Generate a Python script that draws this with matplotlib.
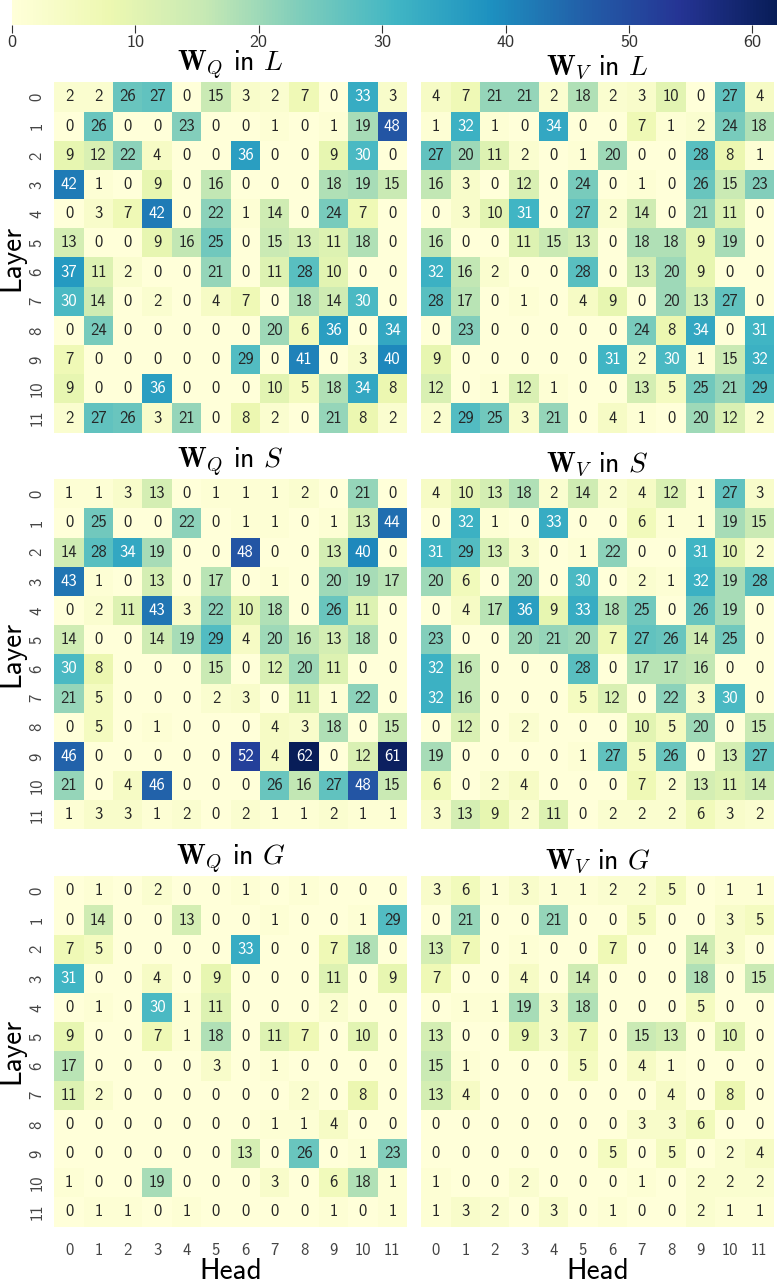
import matplotlib
matplotlib.use("Agg")
import matplotlib.pyplot as plt
import numpy as np
import seaborn as sns

plt.rcParams['mathtext.fontset'] = 'cm'
plt.rcParams['font.family'] = ['cmss10', 'DejaVu Sans']
plt.rcParams['axes.unicode_minus'] = False

heads = [str(i) for i in range(12)]
layers = [str(i) for i in range(12)]

wq_L = [
    [2, 2, 26, 27, 0, 15, 3, 2, 7, 0, 33, 3],
    [0, 26, 0, 0, 23, 0, 0, 1, 0, 1, 19, 48],
    [9, 12, 22, 4, 0, 0, 36, 0, 0, 9, 30, 0],
    [42, 1, 0, 9, 0, 16, 0, 0, 0, 18, 19, 15],
    [0, 3, 7, 42, 0, 22, 1, 14, 0, 24, 7, 0],
    [13, 0, 0, 9, 16, 25, 0, 15, 13, 11, 18, 0],
    [37, 11, 2, 0, 0, 21, 0, 11, 28, 10, 0, 0],
    [30, 14, 0, 2, 0, 4, 7, 0, 18, 14, 30, 0],
    [0, 24, 0, 0, 0, 0, 0, 20, 6, 36, 0, 34],
    [7, 0, 0, 0, 0, 0, 29, 0, 41, 0, 3, 40],
    [9, 0, 0, 36, 0, 0, 0, 10, 5, 18, 34, 8],
    [2, 27, 26, 3, 21, 0, 8, 2, 0, 21, 8, 2],
]
wv_L = [
    [4, 7, 21, 21, 2, 18, 2, 3, 10, 0, 27, 4],
    [1, 32, 1, 0, 34, 0, 0, 7, 1, 2, 24, 18],
    [27, 20, 11, 2, 0, 1, 20, 0, 0, 28, 8, 1],
    [16, 3, 0, 12, 0, 24, 0, 1, 0, 26, 15, 23],
    [0, 3, 10, 31, 0, 27, 2, 14, 0, 21, 11, 0],
    [16, 0, 0, 11, 15, 13, 0, 18, 18, 9, 19, 0],
    [32, 16, 2, 0, 0, 28, 0, 13, 20, 9, 0, 0],
    [28, 17, 0, 1, 0, 4, 9, 0, 20, 13, 27, 0],
    [0, 23, 0, 0, 0, 0, 0, 24, 8, 34, 0, 31],
    [9, 0, 0, 0, 0, 0, 31, 2, 30, 1, 15, 32],
    [12, 0, 1, 12, 1, 0, 0, 13, 5, 25, 21, 29],
    [2, 29, 25, 3, 21, 0, 4, 1, 0, 20, 12, 2],
]
wq_S = [
    [1, 1, 3, 13, 0, 1, 1, 1, 2, 0, 21, 0],
    [0, 25, 0, 0, 22, 0, 1, 1, 0, 1, 13, 44],
    [14, 28, 34, 19, 0, 0, 48, 0, 0, 13, 40, 0],
    [43, 1, 0, 13, 0, 17, 0, 1, 0, 20, 19, 17],
    [0, 2, 11, 43, 3, 22, 10, 18, 0, 26, 11, 0],
    [14, 0, 0, 14, 19, 29, 4, 20, 16, 13, 18, 0],
    [30, 8, 0, 0, 0, 15, 0, 12, 20, 11, 0, 0],
    [21, 5, 0, 0, 0, 2, 3, 0, 11, 1, 22, 0],
    [0, 5, 0, 1, 0, 0, 0, 4, 3, 18, 0, 15],
    [46, 0, 0, 0, 0, 0, 52, 4, 62, 0, 12, 61],
    [21, 0, 4, 46, 0, 0, 0, 26, 16, 27, 48, 15],
    [1, 3, 3, 1, 2, 0, 2, 1, 1, 2, 1, 1],
]
wv_S = [
    [4, 10, 13, 18, 2, 14, 2, 4, 12, 1, 27, 3],
    [0, 32, 1, 0, 33, 0, 0, 6, 1, 1, 19, 15],
    [31, 29, 13, 3, 0, 1, 22, 0, 0, 31, 10, 2],
    [20, 6, 0, 20, 0, 30, 0, 2, 1, 32, 19, 28],
    [0, 4, 17, 36, 9, 33, 18, 25, 0, 26, 19, 0],
    [23, 0, 0, 20, 21, 20, 7, 27, 26, 14, 25, 0],
    [32, 16, 0, 0, 0, 28, 0, 17, 17, 16, 0, 0],
    [32, 16, 0, 0, 0, 5, 12, 0, 22, 3, 30, 0],
    [0, 12, 0, 2, 0, 0, 0, 10, 5, 20, 0, 15],
    [19, 0, 0, 0, 0, 1, 27, 5, 26, 0, 13, 27],
    [6, 0, 2, 4, 0, 0, 0, 7, 2, 13, 11, 14],
    [3, 13, 9, 2, 11, 0, 2, 2, 2, 6, 3, 2],
]
wq_G = [
    [0, 1, 0, 2, 0, 0, 1, 0, 1, 0, 0, 0],
    [0, 14, 0, 0, 13, 0, 0, 1, 0, 0, 1, 29],
    [7, 5, 0, 0, 0, 0, 33, 0, 0, 7, 18, 0],
    [31, 0, 0, 4, 0, 9, 0, 0, 0, 11, 0, 9],
    [0, 1, 0, 30, 1, 11, 0, 0, 0, 2, 0, 0],
    [9, 0, 0, 7, 1, 18, 0, 11, 7, 0, 10, 0],
    [17, 0, 0, 0, 0, 3, 0, 1, 0, 0, 0, 0],
    [11, 2, 0, 0, 0, 0, 0, 0, 2, 0, 8, 0],
    [0, 0, 0, 0, 0, 0, 0, 1, 1, 4, 0, 0],
    [0, 0, 0, 0, 0, 0, 13, 0, 26, 0, 1, 23],
    [1, 0, 0, 19, 0, 0, 0, 3, 0, 6, 18, 1],
    [0, 1, 1, 0, 1, 0, 0, 0, 0, 1, 0, 1],
]
wv_G = [
    [3, 6, 1, 3, 1, 1, 2, 2, 5, 0, 1, 1],
    [0, 21, 0, 0, 21, 0, 0, 5, 0, 0, 3, 5],
    [13, 7, 0, 1, 0, 0, 7, 0, 0, 14, 3, 0],
    [7, 0, 0, 4, 0, 14, 0, 0, 0, 18, 0, 15],
    [0, 1, 1, 19, 3, 18, 0, 0, 0, 5, 0, 0],
    [13, 0, 0, 9, 3, 7, 0, 15, 13, 0, 10, 0],
    [15, 1, 0, 0, 0, 5, 0, 4, 1, 0, 0, 0],
    [13, 4, 0, 0, 0, 0, 0, 0, 4, 0, 8, 0],
    [0, 0, 0, 0, 0, 0, 0, 3, 3, 6, 0, 0],
    [0, 0, 0, 0, 0, 0, 5, 0, 5, 0, 2, 4],
    [1, 0, 0, 2, 0, 0, 0, 1, 0, 2, 2, 2],
    [1, 3, 2, 0, 3, 0, 1, 0, 0, 2, 1, 1],
]

panels = [
    (wq_L, r'$\mathbf{W}_Q$ in $L$'), (wv_L, r'$\mathbf{W}_V$ in $L$'),
    (wq_S, r'$\mathbf{W}_Q$ in $S$'), (wv_S, r'$\mathbf{W}_V$ in $S$'),
    (wq_G, r'$\mathbf{W}_Q$ in $G$'), (wv_G, r'$\mathbf{W}_V$ in $G$'),
]

vmax = 62
fig = plt.figure(figsize=(7.77, 12.83), dpi=100)

xs = [0.0699, 0.5422]
ys = [0.6628, 0.3535, 0.0440]
w, h = 0.4539, 0.2730

cax = fig.add_axes([0.0154, 0.9805, 0.9846, 0.0195])

for k, (data, title) in enumerate(panels):
    r, c = divmod(k, 2)
    ax = fig.add_axes([xs[c], ys[r], w, h])
    sns.heatmap(np.array(data), ax=ax, cmap='YlGnBu', vmin=0, vmax=vmax,
                annot=True, fmt='d', annot_kws={'fontsize': 12},
                cbar=(k == 0), cbar_ax=cax if k == 0 else None,
                cbar_kws={'orientation': 'horizontal', 'ticks': [0, 10, 20, 30, 40, 50, 60]},
                xticklabels=heads, yticklabels=layers)
    ax.set_title(title, fontsize=20, pad=-6)
    if c == 0:
        ax.set_yticklabels(layers, rotation=90, va='center', fontsize=12)
        ax.tick_params(axis='y', pad=7)
        ax.set_ylabel('Layer', fontsize=21, labelpad=3)
    else:
        ax.set_yticks([])
    if r == 2:
        ax.set_xticklabels(heads, rotation=0, fontsize=12)
        ax.tick_params(axis='x', pad=12)
        ax.set_xlabel('Head', fontsize=21, labelpad=0)
    else:
        ax.set_xticks([])
    ax.tick_params(length=0, colors='#444444')

cax.tick_params(labelsize=13, length=6, pad=1, colors='#333333')
cax.xaxis.set_ticks_position('bottom')
for s in cax.spines.values():
    s.set_visible(False)

fig.savefig('out.png', dpi=100)
